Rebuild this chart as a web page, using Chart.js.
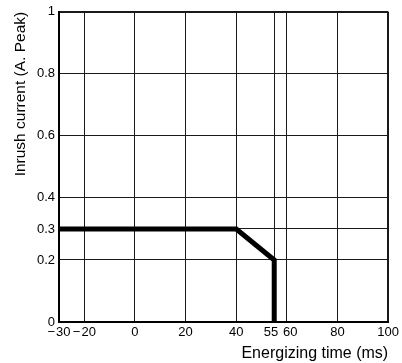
<!DOCTYPE html>
<html>
<head>
<meta charset="utf-8">
<script src="https://cdn.jsdelivr.net/npm/chart.js@4"></script>
<style>
  html, body { margin: 0; padding: 0; background: #fff; }
  #wrap { width: 402px; height: 363px; }
</style>
</head>
<body>
<div id="wrap"><canvas id="inrushChart"></canvas></div>
<script>
// curve data (energizing time ms -> inrush current A peak)
const timeValues = [-30, 40, 55, 55];
const currentValues = [0.3, 0.3, 0.2, 0];

const xTicks = [-30, -20, 0, 20, 40, 55, 60, 80, 100];
const yTicks = [0, 0.2, 0.3, 0.4, 0.6, 0.8, 1];

const xTitle = 'Energizing time (ms)';
const yTitle = 'Inrush current (A. Peak)';

const fontFamily = '"Liberation Sans", Arial, Helvetica, sans-serif';

function tickLabel(v) {
    // 55 and 60 sit close together, nudge them apart with spaces
    if (v === 55) return '55\u2002';
    if (v === 60) return '\u200260';
    return v < 0 ? '\u2212\u200a' + Math.abs(v) : String(v);
}

const ctx = document.getElementById('inrushChart').getContext('2d');

new Chart(ctx, {
    type: 'line',
    data: {
        datasets: [{
            data: timeValues.map((t, i) => ({ x: t, y: currentValues[i] })),
            borderColor: '#000',
            borderWidth: 5,
            pointRadius: 0,
            tension: 0,
            fill: false
        }]
    },
    options: {
        responsive: true,
        maintainAspectRatio: false,
        animation: false,
        layout: { padding: { top: 10, right: 13, left: 0, bottom: 0 } },
        plugins: {
            legend: { display: false },
            tooltip: { enabled: false }
        },
        scales: {
            x: {
                type: 'linear',
                min: -30,
                max: 100,
                afterBuildTicks: s => { s.ticks = xTicks.map(v => ({ value: v })); },
                afterFit: s => { s.height = 41; },
                ticks: {
                    color: '#000',
                    font: { family: fontFamily, size: 13 },
                    padding: 3,
                    maxRotation: 0,
                    autoSkip: false,
                    callback: v => tickLabel(v)
                },
                grid: {
                    color: '#1a1a1a',
                    lineWidth: c => (c.tick && c.tick.value === 100) ? 2 : 1,
                    drawTicks: false
                },
                border: { color: '#000', width: 2 },
                title: {
                    display: true,
                    text: xTitle,
                    align: 'end',
                    color: '#000',
                    font: { family: fontFamily, size: 16 },
                    padding: { top: 1, bottom: 0 }
                }
            },
            y: {
                min: 0,
                max: 1,
                afterBuildTicks: s => { s.ticks = yTicks.map(v => ({ value: v })); },
                afterFit: s => { s.width = 59; },
                ticks: {
                    color: '#000',
                    font: { family: fontFamily, size: 13 },
                    padding: 4,
                    autoSkip: false,
                    callback: v => String(v)
                },
                grid: {
                    color: '#1a1a1a',
                    lineWidth: c => (c.tick && c.tick.value === 1) ? 2 : 1,
                    drawTicks: false
                },
                border: { color: '#000', width: 2 },
                title: {
                    display: true,
                    text: yTitle,
                    align: 'end',
                    color: '#000',
                    font: { family: fontFamily, size: 15.5 },
                    padding: { top: 11, bottom: 0 }
                }
            }
        }
    }
});
</script>
</body>
</html>
